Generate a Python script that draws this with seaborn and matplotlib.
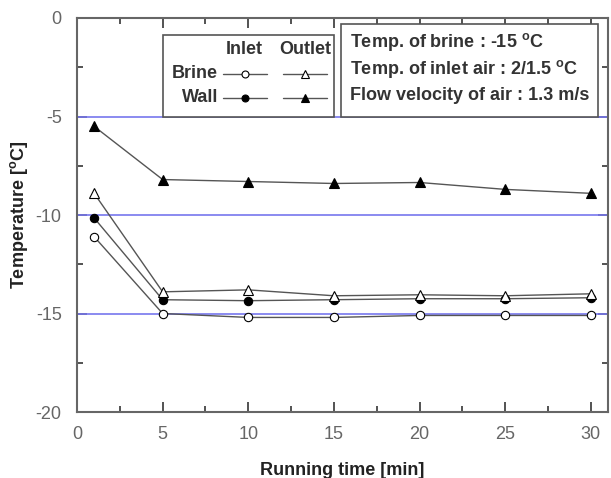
import matplotlib
matplotlib.use('Agg')
import matplotlib.pyplot as plt
from matplotlib.lines import Line2D
from matplotlib.patches import Rectangle
from matplotlib.ticker import MultipleLocator
import seaborn as sns
import pandas as pd

time_min = [1, 5, 10, 15, 20, 25, 30]
brine_inlet = [-11.1, -15.0, -15.2, -15.2, -15.1, -15.1, -15.1]
brine_outlet = [-8.9, -13.9, -13.8, -14.1, -14.05, -14.1, -14.0]
wall_inlet = [-10.15, -14.3, -14.35, -14.3, -14.25, -14.25, -14.2]
wall_outlet = [-5.5, -8.2, -8.3, -8.4, -8.35, -8.7, -8.9]

sns.set_style('ticks')
plt.rcParams['font.family'] = ['Liberation Sans', 'DejaVu Sans']
plt.rcParams['axes.unicode_minus'] = False
plt.rcParams.update({
    'xtick.direction': 'in', 'ytick.direction': 'in',
    'xtick.top': True, 'ytick.right': True,
    'xtick.minor.visible': True, 'ytick.minor.visible': True,
    'xtick.major.size': 7, 'ytick.major.size': 7,
    'xtick.minor.size': 4, 'ytick.minor.size': 4,
    'xtick.major.width': 1.3, 'ytick.major.width': 1.3,
    'xtick.minor.width': 1.3, 'ytick.minor.width': 1.3,
    'xtick.color': '#444444', 'ytick.color': '#444444',
})

fig = plt.figure(figsize=(6.11, 4.78), dpi=100)
ax = fig.add_axes([77 / 611, 1 - 412 / 478, (608 - 77) / 611, (412 - 18) / 478])

# blue reference lines
for yv in [-5, -10, -15]:
    ax.axhline(yv, color='#7777ee', lw=1.2, zorder=1)

line_c = '#555555'
series = [
    (brine_inlet, 'o', 'white', 6),
    (wall_inlet, 'o', 'black', 6),
    (brine_outlet, '^', 'white', 7.5),
    (wall_outlet, '^', 'black', 7.5),
]
for vals, mk, fc, ms in series:
    df = pd.DataFrame({'t': time_min, 'T': vals})
    sns.lineplot(data=df, x='t', y='T', ax=ax, color=line_c, lw=1, marker=mk,
                 markersize=ms, markerfacecolor=fc, markeredgecolor='black',
                 markeredgewidth=0.8, zorder=3)

ax.set_xlim(0, 31)
ax.set_ylim(-20, 0)
ax.xaxis.set_major_locator(MultipleLocator(5))
ax.xaxis.set_minor_locator(MultipleLocator(2.5))
ax.yaxis.set_major_locator(MultipleLocator(5))
ax.yaxis.set_minor_locator(MultipleLocator(2.5))
ax.tick_params(which='both', direction='in', top=True, right=True,
               bottom=True, left=True, labelcolor='#666666', labelsize=13)
ax.tick_params(axis='x', which='major', pad=10)
ax.tick_params(axis='y', which='major', pad=11)
for s in ax.spines.values():
    s.set_color('#666666')
    s.set_linewidth(1.5)
    s.set_visible(True)

ax.set_xlabel('Running time [min]', fontweight='bold', fontsize=13, labelpad=14, color='#222222')
ax.set_ylabel('Temperature [$\\mathregular{^{o}}$C]', fontweight='bold', fontsize=13, labelpad=4,
              color='#222222')

# custom legend box
tr = ax.transAxes
def px(x, y):
    return ((x - 77) / (608 - 77), (412 - y) / (412 - 18))

x0, y0 = px(163, 117)
x1, y1 = px(334, 35)
ax.add_patch(Rectangle((x0, y0), x1 - x0, y1 - y0, transform=tr, fill=True,
                       facecolor='white', edgecolor='#555555', lw=1.2, zorder=5))
fs = 13
tx, ty = px(244, 50)
ax.text(tx, ty, 'Inlet', transform=tr, ha='center', va='center', fontsize=fs, fontweight='bold', color='#333333', zorder=6)
tx, ty = px(305, 50)
ax.text(tx, ty, 'Outlet', transform=tr, ha='center', va='center', fontsize=fs, fontweight='bold', color='#333333', zorder=6)
for row_y, label, fc in [(74, 'Brine', 'white'), (98, 'Wall', 'black')]:
    tx, ty = px(218, row_y)
    ax.text(tx, ty, label, transform=tr, ha='right', va='center', fontsize=fs, fontweight='bold', color='#333333', zorder=6)
    for cx, mk, ms in [(245, 'o', 5), (305, '^', 6)]:
        a, b = px(cx - 22, row_y)
        c, _ = px(cx + 22, row_y)
        m, _ = px(cx, row_y)
        ax.add_line(Line2D([a, c], [b, b], transform=tr, color=line_c, lw=1, zorder=6))
        ax.add_line(Line2D([m], [b], transform=tr, marker=mk, markersize=ms,
                           markerfacecolor=fc, markeredgecolor='black', markeredgewidth=0.8,
                           linestyle='none', zorder=7))

# condition text box
x0, y0 = px(341, 117)
x1, y1 = px(598, 24)
ax.add_patch(Rectangle((x0, y0), x1 - x0, y1 - y0, transform=tr, fill=True,
                       facecolor='white', edgecolor='#555555', lw=1.2, zorder=5))
info = ['Temp. of brine : -15 $\\mathregular{^{o}}$C',
        'Temp. of inlet air : 2/1.5 $\\mathregular{^{o}}$C',
        'Flow velocity of air : 1.3 m/s']
for i, t in enumerate(info):
    tx, ty = px(350, 42 + i * 27)
    ax.text(tx, ty, t, transform=tr, ha='left', va='center', fontsize=13, fontweight='bold',
            color='#333333', zorder=6)

fig.savefig('out.png', dpi=100)
